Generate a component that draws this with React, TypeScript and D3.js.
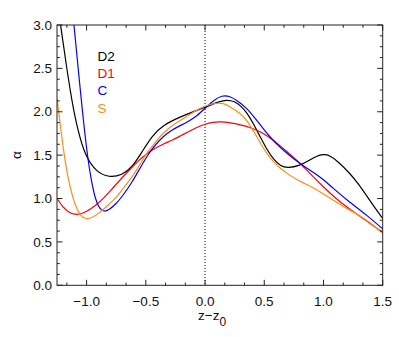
import React from "react";
import * as d3 from "d3";

const xDomain: [number, number] = [-1.25, 1.5];
const yDomain: [number, number] = [0, 3];
const xTickLabels = ["\u22121.0", "\u22120.5", "0.0", "0.5", "1.0", "1.5"];
const xTickValues = [-1.0, -0.5, 0.0, 0.5, 1.0, 1.5];
const yTickLabels = ["0.0", "0.5", "1.0", "1.5", "2.0", "2.5", "3.0"];
const yTickValues = [0, 0.5, 1.0, 1.5, 2.0, 2.5, 3.0];

const seriesNames = ["D2", "D1", "C", "S"];
const seriesColors = ["#000000", "#ff0000", "#0000ff", "#ff8c1a"];

const d2: [number, number][] = [
  [-1.25, 3.3], [-1.22, 3.0], [-1.17, 2.52], [-1.11, 2.0], [-1.05, 1.66], [-1.0, 1.47],
  [-0.92, 1.31], [-0.81, 1.24], [-0.7, 1.27], [-0.615, 1.36], [-0.53, 1.54], [-0.45, 1.72],
  [-0.35, 1.85], [-0.21, 1.94], [-0.1, 2.0], [0.0, 2.05], [0.1, 2.11], [0.18, 2.14],
  [0.25, 2.12], [0.3, 2.07], [0.354, 1.99], [0.41, 1.86], [0.466, 1.71], [0.52, 1.57],
  [0.578, 1.45], [0.64, 1.37], [0.7, 1.35], [0.8, 1.38], [0.88, 1.44], [0.94, 1.49],
  [1.0, 1.51], [1.05, 1.5], [1.12, 1.43], [1.224, 1.29], [1.3, 1.16], [1.365, 1.03],
  [1.43, 0.9], [1.5, 0.77],
];

const d1: [number, number][] = [
  [-1.25, 1.0], [-1.2, 0.9], [-1.15, 0.84], [-1.1, 0.815], [-1.05, 0.82], [-1.0, 0.85],
  [-0.924, 0.92], [-0.85, 1.01], [-0.78, 1.12], [-0.7, 1.24], [-0.63, 1.34], [-0.56, 1.44],
  [-0.49, 1.52], [-0.42, 1.58], [-0.35, 1.63], [-0.28, 1.67], [-0.21, 1.72], [-0.14, 1.77],
  [-0.07, 1.82], [0.0, 1.86], [0.07, 1.88], [0.13, 1.885], [0.21, 1.875], [0.3, 1.85],
  [0.38, 1.82], [0.45, 1.78], [0.494, 1.75], [0.56, 1.69], [0.634, 1.61], [0.7, 1.53],
  [0.775, 1.44], [0.85, 1.34], [0.915, 1.25], [0.98, 1.16], [1.056, 1.06], [1.15, 0.95],
  [1.25, 0.85], [1.365, 0.74], [1.5, 0.61],
];

const c: [number, number][] = [
  [-1.135, 3.4], [-1.107, 3.0], [-1.05, 2.2], [-1.0, 1.55], [-0.96, 1.2], [-0.924, 0.98],
  [-0.89, 0.88], [-0.854, 0.85], [-0.82, 0.86], [-0.756, 0.93], [-0.69, 1.04], [-0.615, 1.19],
  [-0.545, 1.36], [-0.475, 1.52], [-0.42, 1.62], [-0.35, 1.72], [-0.28, 1.79], [-0.21, 1.84],
  [-0.14, 1.89], [-0.07, 1.95], [0.0, 2.04], [0.07, 2.13], [0.143, 2.19], [0.21, 2.18],
  [0.27, 2.13], [0.354, 2.04], [0.42, 1.93], [0.494, 1.8], [0.56, 1.69], [0.634, 1.59],
  [0.7, 1.51], [0.775, 1.43], [0.85, 1.36], [0.915, 1.3], [0.98, 1.24], [1.08, 1.12],
  [1.2, 0.98], [1.365, 0.81], [1.5, 0.65],
];

const s: [number, number][] = [
  [-1.25, 2.15], [-1.22, 1.83], [-1.19, 1.5], [-1.149, 1.17], [-1.093, 0.9], [-1.05, 0.8],
  [-1.008, 0.76], [-0.95, 0.78], [-0.896, 0.83], [-0.83, 0.91], [-0.756, 1.0], [-0.69, 1.12],
  [-0.615, 1.25], [-0.545, 1.4], [-0.49, 1.53], [-0.42, 1.65], [-0.35, 1.76], [-0.28, 1.84],
  [-0.21, 1.9], [-0.14, 1.96], [-0.07, 2.02], [0.0, 2.07], [0.09, 2.1], [0.157, 2.1],
  [0.21, 2.06], [0.3, 1.98], [0.354, 1.9], [0.41, 1.78], [0.466, 1.64], [0.52, 1.52],
  [0.578, 1.42], [0.634, 1.35], [0.69, 1.29], [0.76, 1.23], [0.83, 1.18], [0.95, 1.1],
  [1.083, 0.98], [1.2, 0.88], [1.365, 0.76], [1.5, 0.6],
];

const seriesData = [d2, d1, c, s];

export default function App() {
  const W = 399, H = 337;
  const L = 57, R = 382.7, T = 25, B = 285.3;
  const x = d3.scaleLinear().domain(xDomain).range([L, R]);
  const y = d3.scaleLinear().domain(yDomain).range([B, T]);
  const line = d3
    .line<[number, number]>()
    .x((d) => x(d[0]))
    .y((d) => y(d[1]))
    .curve(d3.curveBasis);

  const xMinor: number[] = [];
  for (let k = -9; k <= 9; k++) {
    const v = k / 6;
    if (v >= xDomain[0] - 1e-9 && v <= xDomain[1] + 1e-9 && k % 3 !== 0) xMinor.push(v);
  }
  const yMinor: number[] = [];
  for (let k = 0; k <= 24; k++) {
    if (k % 4 !== 0) yMinor.push(k / 8);
  }
  const majLen = 5.5, minLen = 2.8;
  const axisColor = "#222";
  const font = "'Liberation Sans', Arial, sans-serif";

  return (
    <svg width={W} height={H} style={{ position: "absolute", left: 0, top: 0 }}>
      <rect width={W} height={H} fill="#fff" />
      <defs>
        <clipPath id="plotclip">
          <rect x={L} y={T} width={R - L} height={B - T} />
        </clipPath>
      </defs>
      <line x1={x(0)} x2={x(0)} y1={T} y2={B} stroke="#000" strokeWidth={1} strokeDasharray="1,2" />
      <g clipPath="url(#plotclip)">
        {seriesData.map((d, i) => (
          <path key={i} d={line(d) || ""} fill="none" stroke={seriesColors[i]} strokeWidth={1.2} />
        ))}
      </g>
      <rect x={L} y={T} width={R - L} height={B - T} fill="none" stroke={axisColor} strokeWidth={1} />
      {xTickValues.map((v, i) => (
        <g key={"xt" + i}>
          <line x1={x(v)} x2={x(v)} y1={B} y2={B - majLen} stroke={axisColor} />
          <line x1={x(v)} x2={x(v)} y1={T} y2={T + majLen} stroke={axisColor} />
          <text x={x(v)} y={305.5} textAnchor="middle" fontSize={13.5} fontFamily={font} fill="#111">
            {xTickLabels[i]}
          </text>
        </g>
      ))}
      {xMinor.map((v, i) => (
        <g key={"xm" + i}>
          <line x1={x(v)} x2={x(v)} y1={B} y2={B - minLen} stroke={axisColor} />
          <line x1={x(v)} x2={x(v)} y1={T} y2={T + minLen} stroke={axisColor} />
        </g>
      ))}
      {yTickValues.map((v, i) => (
        <g key={"yt" + i}>
          <line x1={L} x2={L + majLen} y1={y(v)} y2={y(v)} stroke={axisColor} />
          <line x1={R} x2={R - majLen} y1={y(v)} y2={y(v)} stroke={axisColor} />
          <text x={52} y={y(v) + 4.7} textAnchor="end" fontSize={13.5} fontFamily={font} fill="#111">
            {yTickLabels[i]}
          </text>
        </g>
      ))}
      {yMinor.map((v, i) => (
        <g key={"ym" + i}>
          <line x1={L} x2={L + minLen} y1={y(v)} y2={y(v)} stroke={axisColor} />
          <line x1={R} x2={R - minLen} y1={y(v)} y2={y(v)} stroke={axisColor} />
        </g>
      ))}
      {seriesNames.map((n, i) => (
        <text key={"lg" + i} x={97.5} y={61 + i * 17.2} fontSize={13.5} fontFamily={font} fill={seriesColors[i]}>
          {n}
        </text>
      ))}
      <text
        transform={`translate(21,155) rotate(-90)`}
        textAnchor="middle"
        fontSize={13.5}
        fontFamily={font}
        fill="#111"
      >
        α
      </text>
      <text x={198} y={320} fontSize={13.5} fontFamily={font} fill="#111">
        z{"\u2212"}z
        <tspan fontSize={12} dy={6}>0</tspan>
      </text>
    </svg>
  );
}
